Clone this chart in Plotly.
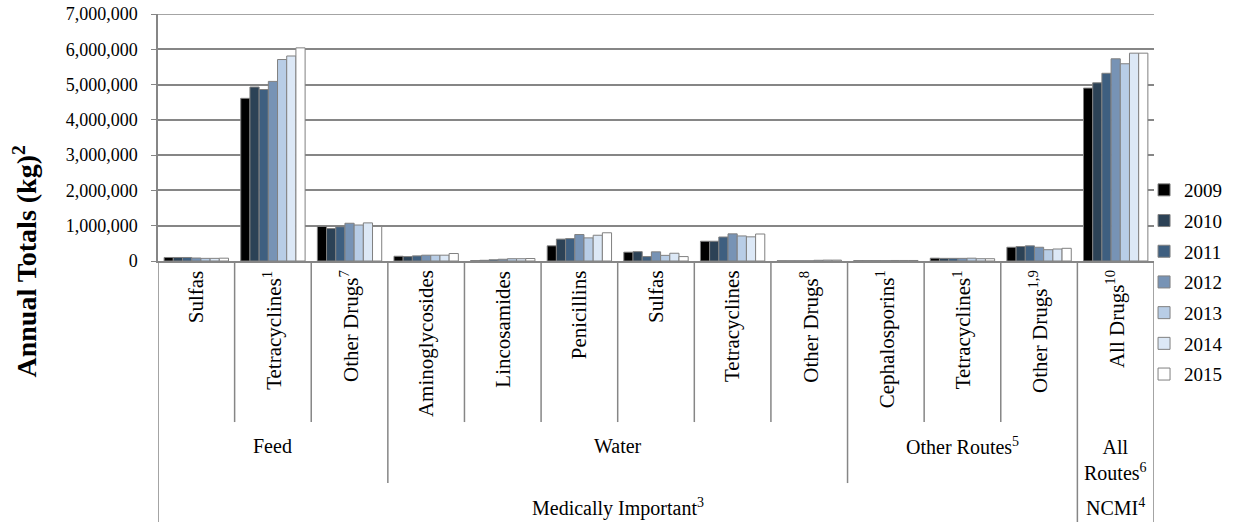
import plotly.graph_objects as go

# drug-level categories (bottom row of the table under the bars)
drugs = [
    "Sulfas", "Tetracyclines<sup>1</sup>", "Other Drugs<sup>7</sup>",
    "Aminoglycosides", "Lincosamides", "Penicillins", "Sulfas", "Tetracyclines",
    "Other Drugs<sup>8</sup>", "Cephalosporins<sup>1</sup>", "Tetracyclines<sup>1</sup>",
    "Other Drugs<sup>1,9</sup>", "All Drugs<sup>10</sup>",
]
# route groups: (label, first index, last index)
routes = [
    ("Feed", 0, 2),
    ("Water", 3, 8),
    ("Other Routes<sup>5</sup>", 9, 11),
    ("All<br>Routes<sup>6</sup>", 12, 12),
]
# class groups
classes = [
    ("Medically Important<sup>3</sup>", 0, 11),
    ("NCMI<sup>4</sup>", 12, 12),
]

years = ["2009", "2010", "2011", "2012", "2013", "2014", "2015"]

y2009 = [100000, 4610000, 980000, 135000, 10000, 430000, 250000, 560000, 5000, 10000, 80000, 390000, 4900000]
y2010 = [100000, 4930000, 920000, 125000, 20000, 620000, 265000, 560000, 5000, 10000, 75000, 410000, 5050000]
y2011 = [100000, 4860000, 970000, 145000, 35000, 635000, 125000, 680000, 5000, 10000, 75000, 430000, 5320000]
y2012 = [85000, 5090000, 1070000, 165000, 50000, 750000, 260000, 770000, 5000, 10000, 75000, 390000, 5730000]
y2013 = [75000, 5710000, 1020000, 165000, 65000, 655000, 160000, 710000, 20000, 15000, 80000, 320000, 5590000]
y2014 = [75000, 5810000, 1080000, 165000, 65000, 730000, 220000, 685000, 25000, 15000, 65000, 340000, 5890000]
y2015 = [80000, 6040000, 980000, 212000, 70000, 800000, 125000, 765000, 25000, 15000, 65000, 360000, 5890000]
series = [y2009, y2010, y2011, y2012, y2013, y2014, y2015]

colors = ["#000000", "#2c4256", "#3e5f80", "#7793b5", "#b8cde6", "#dce8f6", "#ffffff"]

Y_MAX = 7000000

FONT = "Times New Roman, Liberation Serif, serif"
GRAY = "#868686"

fig = go.Figure()
for yr, vals, c in zip(years, series, colors):
    fig.add_trace(go.Bar(
        x=list(range(len(drugs))), y=vals, name=yr, legendgroup=yr,
        marker=dict(color=c, line=dict(color="#808080", width=1)),
    ))

# positions of the label table, in paper units below the axis
DRUG_LINE = -0.652
ROUTE_LINE = -0.899
CLASS_LINE = -1.06

shapes = []
ann = []
n = len(drugs)
route_edges = {r[1] - 0.5 for r in routes} | {routes[-1][2] + 0.5}
class_edges = {c[1] - 0.5 for c in classes} | {classes[-1][2] + 0.5}
for i in range(n + 1):
    xb = i - 0.5
    if xb in class_edges:
        y1 = CLASS_LINE
    elif xb in route_edges:
        y1 = ROUTE_LINE
    else:
        y1 = DRUG_LINE
    shapes.append(dict(type="line", xref="x", yref="paper", x0=xb, x1=xb,
                       y0=0, y1=y1, line=dict(color=GRAY, width=1.5)))

# top gridline (plotly drops the one sitting on the plot edge)
shapes.append(dict(type="line", xref="paper", yref="y", x0=0, x1=1,
                   y0=Y_MAX, y1=Y_MAX, layer="below",
                   line=dict(color=GRAY, width=1.5)))

for i, d in enumerate(drugs):
    ann.append(dict(x=i, y=-0.03, xref="x", yref="paper", text=d,
                    textangle=-90, showarrow=False, xanchor="center", yanchor="top",
                    font=dict(family=FONT, size=21, color="#000000")))
for lbl, a, b in routes:
    ann.append(dict(x=(a + b) / 2, y=-0.805 if "<br>" in lbl else -0.749, xref="x", yref="paper",
                    text=lbl, showarrow=False, xanchor="center", yanchor="middle",
                    font=dict(family=FONT, size=20, color="#000000")))
for lbl, a, b in classes:
    ann.append(dict(x=(a + b) / 2, y=-0.996, xref="x", yref="paper",
                    text=lbl, showarrow=False, xanchor="center", yanchor="middle",
                    font=dict(family=FONT, size=20, color="#000000")))

ann.append(dict(x=-0.133, y=-0.004, xref="paper", yref="paper",
                text="<b>Annual Totals (kg)<sup>2</sup></b>", textangle=-90,
                showarrow=False, xanchor="center", yanchor="middle",
                font=dict(family=FONT, size=28, color="#000000")))

fig.update_layout(
    width=1234, height=522,
    margin=dict(l=158, r=80, t=14, b=261, autoexpand=False),
    paper_bgcolor="white", plot_bgcolor="white",
    barmode="group", bargap=0.16, bargroupgap=0,
    font=dict(family=FONT, size=18, color="#000000"),
    showlegend=True,
    legend=dict(x=0.99, xanchor="left", y=-0.085, yanchor="middle",
                font=dict(family=FONT, size=19, color="#000000"),
                tracegroupgap=3, bgcolor="rgba(0,0,0,0)"),
    shapes=shapes, annotations=ann,
)
fig.update_xaxes(range=[-0.5, n - 0.5], showticklabels=False, showgrid=False,
                 zeroline=False, showline=True, linecolor=GRAY, linewidth=1.5,
                 ticks="")
fig.update_yaxes(range=[0, Y_MAX], dtick=1000000, tickformat=",d",
                 showgrid=True, gridcolor=GRAY, gridwidth=1.5,
                 zeroline=False, showline=True, linecolor=GRAY, linewidth=1.5,
                 ticks="outside", ticklen=5, tickcolor=GRAY,
                 ticklabelstandoff=10,
                 tickfont=dict(family=FONT, size=18, color="#000000"))

# drop the browser's default 8px body margin so the figure sits at the page corner
fig.write_html("out.html", config={"displayModeBar": False},
               post_script="document.body.style.margin='0';")
